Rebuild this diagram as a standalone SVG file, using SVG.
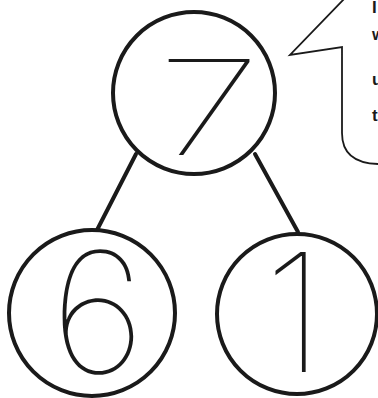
<svg xmlns="http://www.w3.org/2000/svg" width="378" height="398" viewBox="0 0 378 398">
<style>
.node{fill:#fff;stroke:#1a1a1a;stroke-width:4}
.edge{stroke:#1a1a1a;stroke-width:4;fill:none;stroke-linecap:round}
.digit{font-family:Inter,"DejaVu Sans",sans-serif;font-weight:100;fill:#1a1a1a;text-anchor:middle}
.bub{fill:#fff;stroke:#1a1a1a;stroke-width:1.8;stroke-linejoin:miter}
.bt{font-family:"Liberation Sans",Arial,sans-serif;font-size:17px;font-weight:bold;fill:#1a1a1a}
</style>
<rect width="378" height="398" fill="#fff"/>
<g id="connectors">
<line class="edge" x1="136" y1="154" x2="96" y2="232"/>
<line class="edge" x1="255" y1="154" x2="298" y2="232"/>
</g>
<g id="bubble">
<path class="bub" d="M345,-2 L290,55 L342,47 L342,133 Q342,163 378,164"/>
<text class="bt" x="372" y="13">I</text>
<text class="bt" x="372" y="40">w</text>
<text class="bt" x="372" y="85">u</text>
<text class="bt" x="372" y="121">t</text>
</g>
<g id="node7">
<circle class="node" cx="194" cy="93" r="81"/>
<text class="digit" x="0" y="155" font-size="132" transform="translate(209,0) scale(1.45,1)">7</text>
</g>
<g id="node6">
<circle class="node" cx="92" cy="313" r="83"/>
<text class="digit" x="98" y="373" font-size="168">6</text>
</g>
<g id="node1">
<circle class="node" cx="297" cy="314" r="80"/>
<text class="digit" x="294" y="372" font-size="165">1</text>
</g>
</svg>
